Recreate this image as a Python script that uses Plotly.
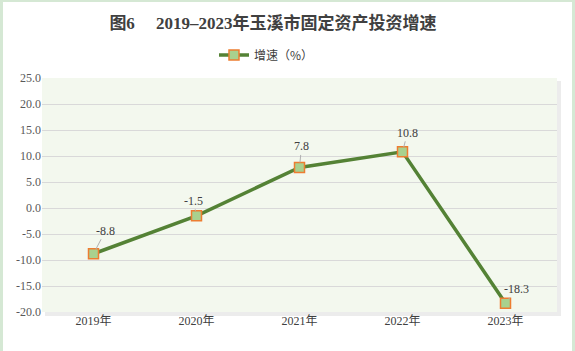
import plotly.graph_objects as go

years = ["2019年", "2020年", "2021年", "2022年", "2023年"]
growth = [-8.8, -1.5, 7.8, 10.8, -18.3]
label_texts = ["-8.8", "-1.5", "7.8", "10.8", "-18.3"]
label_dx = [12, -3, 2, 5, 11]
label_dy = [-23, -15, -21, -19, -14]
y_ticks = [25, 20, 15, 10, 5, 0, -5, -10, -15, -20]
y_tick_text = ["25.0", "20.0", "15.0", "10.0", "5.0", "0.0", "-5.0", "-10.0", "-15.0", "-20.0"]

W, H = 575, 351
L, R, T, B = 42, 18, 78, 39
pw, ph = W - L - R, H - T - B

def px(x):
    return (x - L) / pw

def py(y):
    return (H - B - y) / ph

serif = "Liberation Serif, Times New Roman, Noto Sans CJK SC, serif"

fig = go.Figure()
fig.add_trace(go.Scatter(
    x=years, y=growth, mode="lines+markers", name="增速（%）",
    line=dict(color="#548235", width=3.5),
    marker=dict(symbol="square", size=10, color="#a9d18e",
                line=dict(color="#ed7d31", width=1.5)),
    hoverinfo="skip",
))

for x, y, t, dx, dy in zip(years, growth, label_texts, label_dx, label_dy):
    fig.add_annotation(x=x, y=y, text=t, showarrow=True, ax=dx, ay=dy,
                       arrowhead=0, arrowwidth=1, arrowcolor="#b0b0b0",
                       standoff=5, startstandoff=0,
                       font=dict(family=serif, size=12, color="#404040"))

shapes = [
    dict(type="rect", xref="paper", yref="paper", layer="below",
         x0=px(3), x1=px(572), y0=py(351), y1=py(2),
         fillcolor="white", line=dict(width=0)),
    dict(type="rect", xref="paper", yref="paper", layer="below",
         x0=px(L + 3), x1=px(L + pw + 4), y0=py(H - B + 4), y1=py(T + 3),
         fillcolor="#ececec", line=dict(width=0)),
    dict(type="rect", xref="paper", yref="paper", layer="below",
         x0=0, x1=1, y0=0, y1=1,
         fillcolor="#f3f8ee", line=dict(width=0)),
]

fig.update_layout(
    width=W, height=H,
    margin=dict(l=L, r=R, t=T, b=B),
    paper_bgcolor="#d5e8d4",
    plot_bgcolor="#f3f8ee",
    shapes=shapes,
    showlegend=True,
    title=dict(text="<b>图6\u00a0\u00a0\u00a0\u00a0\u00a02019–2023年玉溪市固定资产投资增速</b>",
               xref="container", x=273 / W, xanchor="center",
               yref="container", y=1 - 23 / H, yanchor="middle",
               font=dict(family=serif, size=17, color="#404040")),
    legend=dict(orientation="h", x=px(214), xanchor="left",
                y=py(55), yanchor="middle",
                font=dict(family="Noto Sans CJK SC, sans-serif", size=12, color="#404040"),
                bgcolor="rgba(0,0,0,0)", itemwidth=30),
    xaxis=dict(type="category", showgrid=False, zeroline=False,
               showline=False, ticks="",
               tickfont=dict(family=serif, size=12, color="#404040"),
               range=[-0.5, 4.5]),
    yaxis=dict(range=[-20, 25], tickvals=y_ticks, ticktext=y_tick_text,
               showgrid=True, gridcolor="#d9d9d9", gridwidth=1,
               zeroline=False, showline=False, ticks="",
               tickfont=dict(family=serif, size=12, color="#595959")),
)

fig.write_html("out.html")
